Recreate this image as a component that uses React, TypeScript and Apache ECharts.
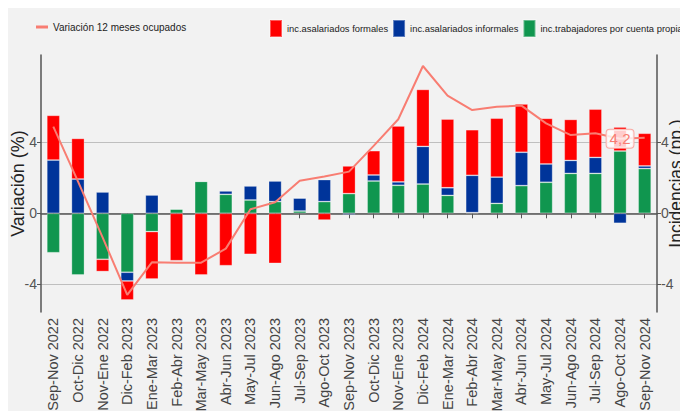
import React, { useEffect, useRef } from "react";
import * as echarts from "echarts";

const categories = [
  "Sep-Nov 2022", "Oct-Dic 2022", "Nov-Ene 2022", "Dic-Feb 2023", "Ene-Mar 2023",
  "Feb-Abr 2023", "Mar-May 2023", "Abr-Jun 2023", "May-Jul 2023", "Jun-Ago 2023",
  "Jul-Sep 2023", "Ago-Oct 2023", "Sep-Nov 2023", "Oct-Dic 2023", "Nov-Ene 2023",
  "Dic-Feb 2024", "Ene-Mar 2024", "Feb-Abr 2024", "Mar-May 2024", "Abr-Jun 2024",
  "May-Jul 2024", "Jun-Ago 2024", "Jul-Sep 2024", "Ago-Oct 2024", "Sep-Nov 2024",
];

const formales = [2.52, 2.29, -0.69, -1.07, -2.67, -2.67, -3.47, -2.95, -2.31, -2.82, 0.02, -0.38, 1.56, 1.37, 3.15, 3.21, 3.87, 2.57, 3.32, 2.72, 2.57, 2.31, 2.72, 1.35, 1.84];
const informales = [3.0, 1.93, 1.2, -0.49, 1.03, 0, 0, 0.19, 0.79, 1.16, 0.73, 1.24, -0.08, 0.34, 0.19, 2.12, 0.43, 2.1, 1.48, 1.88, 1.03, 0.73, 0.9, -0.56, 0.15];
const cuentaPropia = [-2.22, -3.47, -2.59, -3.32, -1.03, 0.24, 1.8, 1.07, 0.75, 0.66, 0.13, 0.66, 1.11, 1.82, 1.58, 1.65, 1.01, 0.04, 0.56, 1.56, 1.75, 2.25, 2.25, 3.51, 2.52];
const variacion = [4.88, 1.8, -1.35, -4.6, -2.76, -2.78, -2.78, -1.99, 0.23, 0.62, 1.84, 2.07, 2.35, 3.8, 5.3, 8.3, 6.63, 5.82, 6.0, 6.07, 5.07, 4.41, 4.51, 4.2, 4.26];

const yTicks = [-4, 0, 4];
const labelledIndex = 23;
const labelText = "4,2";

const SANS = "'Liberation Sans', Arial, sans-serif";

export default function App() {
  const ref = useRef<HTMLDivElement>(null);
  useEffect(() => {
    if (!ref.current) return;
    const chart = echarts.init(ref.current, null, { renderer: "svg" });
    const barBase = {
      type: "bar",
      stack: "inc",
      barWidth: 13,
      itemStyle: { borderColor: "rgba(255,255,255,0.35)", borderWidth: 0.8 },
    };
    const yAxisCommon = {
      type: "value",
      min: -5.56,
      max: 8.92,
      nameLocation: "middle",
      nameRotate: 90,
      nameMoveOverlap: false,
      axisLine: { show: true, lineStyle: { color: "#555", width: 1.5 } },
      axisTick: { show: true, length: 4, customValues: yTicks, lineStyle: { color: "#555" } },
      axisLabel: { customValues: yTicks, fontSize: 14, color: "#555", margin: 4, fontFamily: SANS },
    };
    chart.setOption({
      animation: false,
      backgroundColor: "#f2f2f2",
      textStyle: { fontFamily: SANS },
      grid: { left: 33, right: 31, top: 47, bottom: 99, outerBoundsMode: "none", containLabel: false },
      legend: [
        {
          data: ["Variación 12 meses ocupados"],
          left: 28,
          top: 14,
          padding: 0,
          icon: "rect",
          itemWidth: 12,
          itemHeight: 3,
          itemGap: 4,
          textStyle: { fontSize: 10, color: "#222", fontFamily: SANS },
        },
        {
          data: ["inc.asalariados formales", "inc.asalariados informales", "inc.trabajadores por cuenta propia"],
          left: 261,
          top: 11,
          padding: 0,
          width: 460,
          icon: "rect",
          itemWidth: 12,
          itemHeight: 17,
          itemGap: 4,
          textStyle: { fontSize: 9.4, color: "#222", fontFamily: SANS },
        },
      ],
      xAxis: {
        type: "category",
        data: categories,
        axisLine: { show: true, lineStyle: { color: "#555", width: 1.5 } },
        axisTick: { show: true, alignWithLabel: true, length: 5, lineStyle: { color: "#555" } },
        axisLabel: { rotate: 90, interval: 0, fontSize: 14.5, color: "#444", margin: 6, fontFamily: SANS },
        splitLine: { show: false },
      },
      yAxis: [
        {
          ...yAxisCommon,
          name: "Variación (%)",
          nameGap: 14,
          nameTextStyle: { fontSize: 18, color: "#222", fontFamily: SANS },
          position: "left",
          splitLine: { show: true, lineStyle: { color: "#bfbfbf", width: 1 } },
        },
        {
          ...yAxisCommon,
          name: "Incidencias (pp.)",
          nameGap: 10,
          nameTextStyle: { fontSize: 17.5, color: "#222", fontFamily: SANS },
          position: "right",
          splitLine: { show: false },
        },
      ],
      series: [
        { ...barBase, name: "inc.trabajadores por cuenta propia", data: cuentaPropia, color: "#10964f" },
        { ...barBase, name: "inc.asalariados informales", data: informales, color: "#00349a" },
        { ...barBase, name: "inc.asalariados formales", data: formales, color: "#ff0000" },
        {
          type: "line",
          name: "Variación 12 meses ocupados",
          color: "#f87d72",
          symbol: "circle",
          symbolSize: 0,
          showSymbol: true,
          lineStyle: { width: 2, color: "#f87d72" },
          z: 5,
          data: variacion.map((v, i) =>
            i === labelledIndex
              ? {
                  value: v,
                  label: {
                    show: true,
                    position: "inside",
                    formatter: labelText,
                    fontSize: 15,
                    color: "#f87d72",
                    fontFamily: SANS,
                    backgroundColor: "rgba(255,255,255,0.8)",
                    borderColor: "#f9aaa4",
                    borderWidth: 1,
                    borderRadius: 3,
                    padding: [2, 3, 1, 3],
                  },
                }
              : v
          ),
        },
      ],
    });
    return () => chart.dispose();
  }, []);
  return <div ref={ref} style={{ width: 680, height: 403 }} />;
}
